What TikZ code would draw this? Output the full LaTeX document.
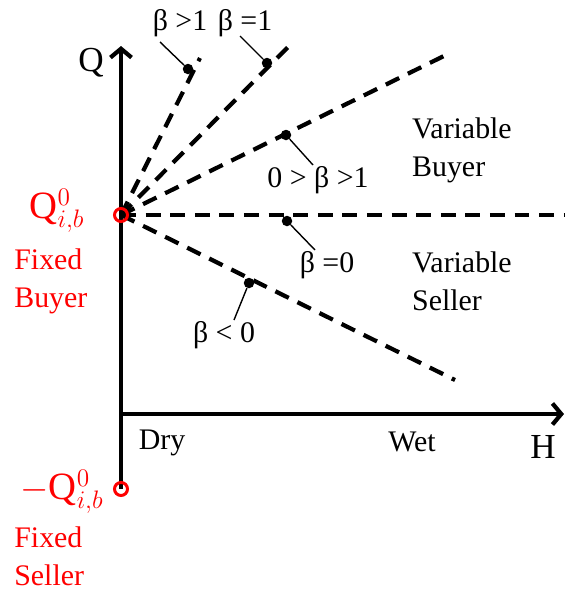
\documentclass[tikz,border=0pt]{standalone}
\usepackage{fontspec}
\setmainfont{Liberation Serif}
\usetikzlibrary{arrows.meta}
\definecolor{fixred}{RGB}{255,0,0}

\begin{document}
\begin{tikzpicture}[x=0.02cm, y=-0.02cm, font=\fontsize{17}{21.5}\selectfont,
  axis/.style={line width=2.4pt, -{Straight Barb[length=5pt,width=12pt]}},
  slope/.style={line width=2.4pt, dash pattern=on 8.5pt off 5.5pt},
  lead/.style={line width=0.8pt},
  pin/.style={circle, fill, inner sep=0pt, minimum size=0.21cm},
  fixpt/.style={circle, draw=fixred, line width=1.7pt, inner sep=0pt, minimum size=0.26cm},
  fixtxt/.style={text=fixred, align=left, inner sep=0pt}]
\useasboundingbox (0,0) rectangle (565,589);

%--- assi ---
\coordinate (O) at (121,414);
\coordinate (qbot) at (121,489);
\coordinate (qtop) at (121,46);
\coordinate (htip) at (564,414);
\draw[axis] (qbot) -- (qtop);
\draw[axis] (O) -- (htip);
\node[font=\fontsize{20}{22}\selectfont] (Qlab) at (91,63) {Q};
\node[font=\fontsize{20}{22}\selectfont] (Hlab) at (543,447) {H};
\node (dry) at (162,443) {Dry};
\node (wet) at (412,442) {Wet};

%--- rette tratteggiate ---
\coordinate (Q0) at (121,215);
\coordinate (e1) at (200,58);
\coordinate (e2) at (293,42);
\coordinate (e3) at (450,53);
\coordinate (e4) at (565,215);
\coordinate (e5) at (455,380);
\foreach \e in {e1,e2,e3,e4,e5}{
  \draw[slope] (Q0) -- (\e);
}

% punti e etichette
\node[pin] (d1) at (188,69) {};
\node[pin] (d2) at (267,63) {};
\node[pin] (d3) at (286,135) {};
\node[pin] (d4) at (287,221) {};
\node[pin] (d5) at (249,283) {};
\node (l1) at (180,23) {β >1};
\node (l2) at (245,23) {β =1};
\node (l3) at (318,180) {0 > β >1};
\node (l4) at (327,265) {β =0};
\node (l5) at (224,335) {β < 0};
\coordinate (t1) at (160,42);
\coordinate (t2) at (240,36);
\coordinate (t3) at (313,165);
\coordinate (t4) at (315,250);
\coordinate (t5) at (234,320);
\foreach \i in {1,...,5}{
  \draw[lead] (d\i) -- (t\i);
}

% regioni
\node[anchor=west, align=left] (vbuy) at (406,150) {Variable\\Buyer};
\node[anchor=west, align=left] (vsel) at (406,281) {Variable\\Seller};

%--- punti fissi ---
\node[fixpt] (fb) at (Q0) {};
\node[fixpt] (fs) at (qbot) {};
\node[fixtxt, font=\fontsize{22}{24}\selectfont] (qb) at (57,211) {Q$^{0}_{i,b}$};
\node[fixtxt, anchor=west] (fbuy) at (14,281) {Fixed\\Buyer};
\node[fixtxt, font=\fontsize{22}{24}\selectfont] (qs) at (62,492) {$-$Q$^{0}_{i,b}$};
\node[fixtxt, anchor=west] (fsel) at (14,556) {Fixed\\Seller};
\end{tikzpicture}
\end{document}
